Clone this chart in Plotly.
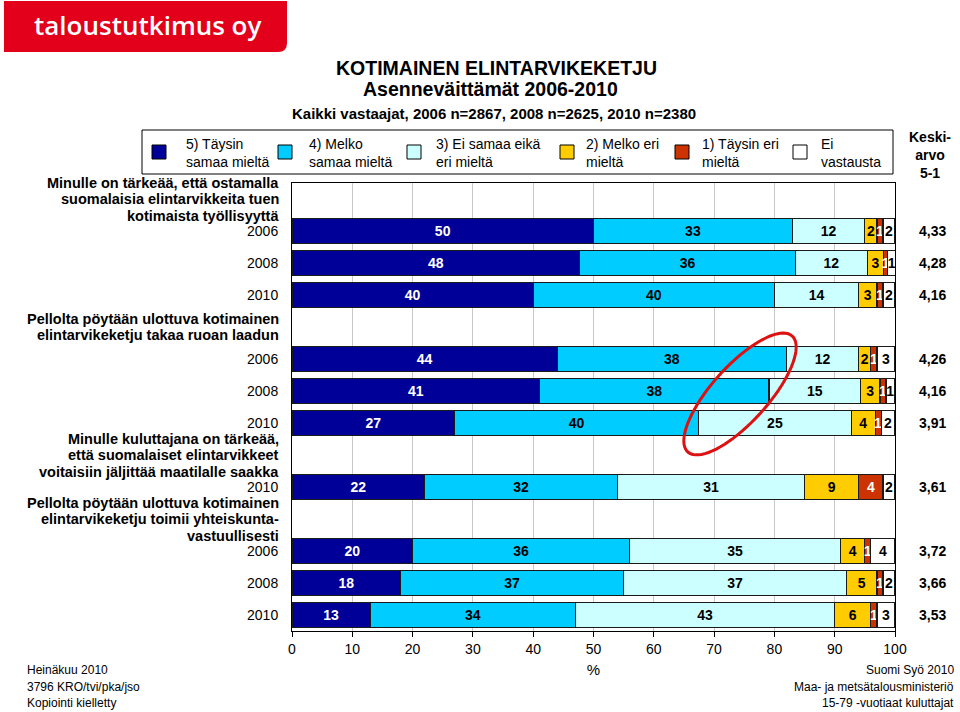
import numpy as np
import plotly.graph_objects as go

# ---------------- data ----------------
years = ["2006", "2008", "2010", "2006", "2008", "2010", "2010", "2006", "2008", "2010"]
row_slots = [1, 2, 3, 5, 6, 7, 9, 11, 12, 13]

questions = [
    ["Minulle on tärkeää, että ostamalla", "suomalaisia elintarvikkeita tuen", "kotimaista työllisyyttä"],
    ["Pellolta pöytään ulottuva kotimainen", "elintarvikeketju takaa ruoan laadun"],
    ["Minulle kuluttajana on tärkeää,", "että suomalaiset elintarvikkeet", "voitaisiin jäljittää maatilalle saakka"],
    ["Pellolta pöytään ulottuva kotimainen", "elintarvikeketju toimii yhteiskunta-", "vastuullisesti"],
]
question_slots = [0, 4, 8, 10]

series_names = ["5) Täysin<br>samaa mieltä", "4) Melko<br>samaa mieltä", "3) Ei samaa eikä<br>eri mieltä",
                "2) Melko eri<br>mieltä", "1) Täysin eri<br>mieltä", "Ei<br>vastausta"]
s5 = [50, 47.7, 40, 44, 41.1, 27, 22, 20, 18, 13]
s4 = [33, 35.8, 40, 38, 38, 40.4, 32, 36, 37, 34]
s3 = [12, 11.9, 14, 12, 15.2, 25.4, 31, 35, 37, 43]
s2 = [2, 2.7, 3, 2, 3.2, 3.9, 9, 4, 5, 6]
s1 = [1, 0.7, 1, 1, 1.0, 1.0, 4, 1, 1, 1]
s0 = [2, 1.3, 2, 3, 1.4, 2.3, 2, 4, 2, 3]
means = ["4,33", "4,28", "4,16", "4,26", "4,16", "3,91", "3,61", "3,72", "3,66", "3,53"]

x_ticks = [0, 10, 20, 30, 40, 50, 60, 70, 80, 90, 100]

colors = ["#000099", "#00CCFF", "#CCFFFF", "#FFCC00", "#CC3300", "#FFFFFF"]
text_colors = ["white", "black", "black", "black", "white", "black"]

# ---------------- geometry helpers ----------------
W, H = 960, 712
L, R, T, B = 292, 65, 183, 81
PW, PH = W - L - R, H - T - B
SLOT = PH / 14


def px(x):
    return (x - L) / PW


def py(y):
    return (H - B - y) / PH


FONT = "Liberation Sans, Arial, Helvetica, sans-serif"

fig = go.Figure()
all_series = [s5, s4, s3, s2, s1, s0]
for name, vals, col, tcol in zip(series_names, all_series, colors, text_colors):
    fig.add_trace(go.Bar(
        y=row_slots, x=vals, orientation="h", name=name,
        marker=dict(color=col, line=dict(color="#1a1a1a", width=1.2)),
        width=0.78,
        text=[f"{round(v)}" for v in vals],
        textposition="inside", insidetextanchor="middle", textangle=0,
        constraintext="none",
        textfont=dict(family=FONT, size=14, color=tcol, weight="bold"),
        showlegend=False, hoverinfo="skip",
    ))

fig.update_layout(
    width=W, height=H, barmode="stack",
    margin=dict(l=L, r=R, t=T, b=B, pad=0),
    paper_bgcolor="white", plot_bgcolor="white",
    font=dict(family=FONT, size=14, color="black"),
    xaxis=dict(range=[0, 100], tickvals=x_ticks, ticktext=[str(v) for v in x_ticks],
               showgrid=True, gridcolor="#c8c8c8", gridwidth=1,
               showline=True, linecolor="black", linewidth=1, mirror=True,
               ticks="outside", ticklen=5, tickcolor="black",
               tickfont=dict(size=14), zeroline=False,
               title=dict(text="%", font=dict(size=15), standoff=8)),
    yaxis=dict(range=[13.5, -0.5], tickvals=row_slots, ticktext=years,
               showgrid=False, showline=True, linecolor="black", linewidth=1, mirror=True,
               ticks="", ticklabelstandoff=10, tickfont=dict(size=14), zeroline=False),
)

ann = []
# question labels, one annotation per line
LINE = 16.5
for lines, s in zip(questions, question_slots):
    center = T + (s + 0.5) * SLOT
    n = len(lines)
    for i, ln in enumerate(lines):
        yy = center + (i - (n - 1) / 2) * LINE
        ann.append(dict(x=px(281), xref="paper", y=py(yy), yref="paper", text=ln, showarrow=False,
                        xanchor="right", yanchor="middle", align="right",
                        font=dict(size=14.5, weight="bold")))
# means
for m, s in zip(means, row_slots):
    ann.append(dict(x=px(932), xref="paper", y=s, yref="y", text=m, showarrow=False,
                    xanchor="center", yanchor="middle", font=dict(size=14, weight="bold")))
ann.append(dict(x=px(930), xref="paper", y=py(155), yref="paper", text="Keski-<br>arvo<br>5-1",
                showarrow=False, xanchor="center", yanchor="middle", align="center",
                font=dict(size=14, weight="bold")))
# titles
ann.append(dict(x=px(496), xref="paper", y=py(68), yref="paper", text="KOTIMAINEN ELINTARVIKEKETJU",
                showarrow=False, xanchor="center", yanchor="middle", font=dict(size=19.5, weight="bold")))
ann.append(dict(x=px(490), xref="paper", y=py(89), yref="paper", text="Asenneväittämät 2006-2010",
                showarrow=False, xanchor="center", yanchor="middle", font=dict(size=19.5, weight="bold")))
ann.append(dict(x=px(494), xref="paper", y=py(113), yref="paper",
                text="Kaikki vastaajat, 2006 n=2867, 2008 n=2625, 2010 n=2380",
                showarrow=False, xanchor="center", yanchor="middle", font=dict(size=15, weight="bold")))
# footers
for i, t in enumerate(["Heinäkuu 2010", "3796 KRO/tvi/pka/jso", "Kopiointi kielletty"]):
    ann.append(dict(x=px(25), xref="paper", y=py(670 + 16.5 * i), yref="paper", text=t,
                    showarrow=False, xanchor="left", yanchor="middle", font=dict(size=12)))
for i, t in enumerate(["Suomi Syö 2010", "Maa- ja metsätalousministeriö", "15-79 -vuotiaat kuluttajat"]):
    ann.append(dict(x=px(956), xref="paper", y=py(670 + 16.5 * i), yref="paper", text=t,
                    showarrow=False, xanchor="right", yanchor="middle", font=dict(size=12)))
# logo text
ann.append(dict(x=px(147), xref="paper", y=py(25), yref="paper", text="taloustutkimus oy",
                showarrow=False, xanchor="center", yanchor="middle",
                font=dict(family="Open Sans, sans-serif", size=26, color="white", weight=600)))

shapes = []
# logo background
lx0, lx1, ly0, ly1, rad = 4, 287, 1, 52, 9
shapes.append(dict(type="path", xref="paper", yref="paper",
                   path=(f"M {px(lx0)},{py(ly0)} L {px(lx1)},{py(ly0)} L {px(lx1)},{py(ly1 - rad)} "
                         f"Q {px(lx1)},{py(ly1)} {px(lx1 - rad)},{py(ly1)} L {px(lx0)},{py(ly1)} Z"),
                   fillcolor="#E2001A", line=dict(width=0)))
# legend box
shapes.append(dict(type="rect", xref="paper", yref="paper", x0=px(142), x1=px(893), y0=py(174), y1=py(130),
                   fillcolor="white", line=dict(color="black", width=1)))
sq_x = [152, 278, 407, 560, 675, 793]
tx_x = [184, 307, 434, 584, 700, 819]
for sx, tx, col, name in zip(sq_x, tx_x, colors, series_names):
    shapes.append(dict(type="rect", xref="paper", yref="paper", x0=px(sx), x1=px(sx + 14),
                       y0=py(159), y1=py(145), fillcolor=col, line=dict(color="black", width=1)))
    ann.append(dict(x=px(tx), xref="paper", y=py(153), yref="paper", text=name, showarrow=False,
                    xanchor="left", yanchor="middle", align="left", font=dict(size=14)))

# red hand-drawn ellipse highlight (in pixel space converted to data)
cx, cy, a, b, th = 740, 394, 78, 28, np.deg2rad(-48)
t = np.linspace(0, 2 * np.pi, 80)
ex = cx + a * np.cos(t) * np.cos(th) - b * np.sin(t) * np.sin(th)
ey = cy + a * np.cos(t) * np.sin(th) + b * np.sin(t) * np.cos(th)
dx = (ex - L) / PW * 100
dy = (ey - T) / PH * 14 - 0.5
path = "M " + " L ".join(f"{x:.3f},{y:.3f}" for x, y in zip(dx, dy)) + " Z"
shapes.append(dict(type="path", xref="x", yref="y", path=path, line=dict(color="#DD1111", width=3),
                   fillcolor="rgba(0,0,0,0)", layer="above"))

fig.update_layout(annotations=ann, shapes=shapes)
fig.write_html("out.html", config={"displayModeBar": False},
               post_script="document.body.style.margin='0';document.body.style.overflow='hidden';")
